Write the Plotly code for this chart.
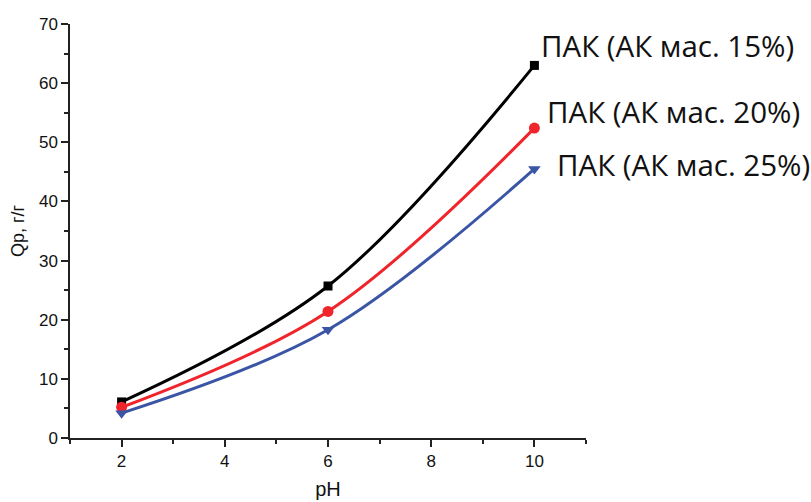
import plotly.graph_objects as go

ph = [2, 6, 10]
pak15 = [6.1, 25.7, 63.0]
pak20 = [5.2, 21.4, 52.4]
pak25 = [4.2, 18.3, 45.5]
labels = ["ПАК (АК мас. 15%)", "ПАК (АК мас. 20%)", "ПАК (АК мас. 25%)"]

colors = ["#000000", "#f0242b", "#3a55a5"]
symbols = ["square", "circle", "triangle-down"]
msizes = [9, 11, 11]
series = [pak15, pak20, pak25]

fig = go.Figure()
for ys, c, s, ms, lab in zip(series, colors, symbols, msizes, labels):
    fig.add_trace(go.Scatter(
        x=ph, y=ys, mode="lines+markers", name=lab,
        line=dict(color=c, width=3, shape="spline", smoothing=1.0),
        marker=dict(color=c, symbol=s, size=ms),
        showlegend=False, cliponaxis=False,
    ))

shifts = [(5, 20), (11, 17), (21, 4)]
for ys, lab, (dx, dy) in zip(series, labels, shifts):
    fig.add_annotation(
        x=ph[-1], y=ys[-1], text=lab, showarrow=False,
        xanchor="left", yanchor="middle", xshift=dx, yshift=dy,
        font=dict(family="Open Sans", size=29.5, color="#111111"),
    )

axis_common = dict(
    showline=True, linecolor="#222222", linewidth=1.5,
    ticks="outside", ticklen=7, tickwidth=1.5, tickcolor="#222222",
    showgrid=False, zeroline=False, mirror=False, automargin=False,
    tickfont=dict(family="Liberation Sans, Arial", size=17, color="#111111"),
)

fig.update_xaxes(
    range=[1, 11], tickvals=[2, 4, 6, 8, 10],
    minor=dict(ticks="outside", ticklen=4, tickwidth=1.5, tickcolor="#222222",
               tickvals=[1, 3, 5, 7, 9, 11]),
    title=dict(text="pH", font=dict(family="Liberation Sans, Arial", size=20, color="#111111"), standoff=12),
    **axis_common,
)
fig.update_yaxes(
    range=[0, 70], tickvals=[0, 10, 20, 30, 40, 50, 60, 70],
    minor=dict(ticks="outside", ticklen=4, tickwidth=1.5, tickcolor="#222222",
               tickvals=[5, 15, 25, 35, 45, 55, 65]),
    title=dict(text="Qp, г/г", font=dict(family="Liberation Sans, Arial", size=18, color="#111111"), standoff=10),
    **axis_common,
)

fig.update_layout(
    width=811, height=502,
    margin=dict(l=70, r=225, t=24, b=64),
    paper_bgcolor="white", plot_bgcolor="white",
)

# remove the default 8px body margin so the 811x502 figure fills the window exactly
fig.write_html(
    "out.html",
    config={"displayModeBar": False},
    post_script="document.body.style.margin='0';document.body.style.overflow='hidden';",
)
